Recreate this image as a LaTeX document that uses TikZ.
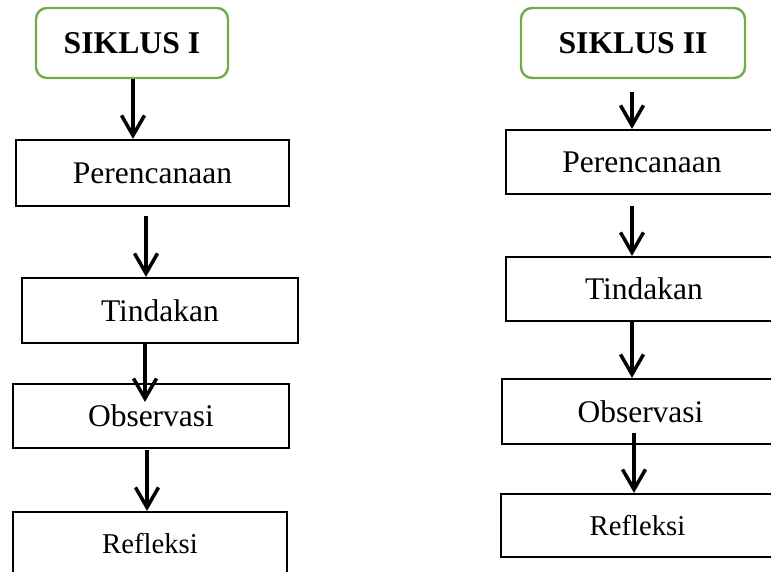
\documentclass[tikz,border=0pt]{standalone}
\usepackage{fontspec}
\setmainfont{Liberation Serif}
\usetikzlibrary{arrows.meta}
\definecolor{sikgreen}{RGB}{112,173,71}
\begin{document}
\begin{tikzpicture}[x=1pt,y=-1pt,
  stepbox/.style={draw=black, line width=2.2pt, rectangle, inner sep=0pt, font=\fontsize{31.5}{36}\selectfont},
  smallbox/.style={stepbox, font=\fontsize{28.7}{34}\selectfont},
  titlebox/.style={draw=sikgreen, line width=2.4pt, rectangle, rounded corners=11pt, inner sep=0pt, font=\fontsize{31.7}{36}\selectfont\bfseries},
  arr/.style={line width=3.5pt, -{Straight Barb[length=20pt,width=23pt]}},
]
\clip (0,0) rectangle (771,572);
% left column
\node[titlebox, minimum width=192pt, minimum height=70pt] (s1) at (132,43) {SIKLUS I};
\node[stepbox, minimum width=273pt, minimum height=66pt] (p1) at (152.5,173) {Perencanaan};
\node[stepbox, minimum width=276pt, minimum height=65pt] (t1) at (160,310.5) {Tindakan};
\node[stepbox, minimum width=276pt, minimum height=64pt] (o1) at (151,416) {Observasi};
\node[smallbox, minimum width=274pt, minimum height=64pt] (r1) at (150,544) {Refleksi};
% right column
\node[titlebox, minimum width=224pt, minimum height=70pt] (s2) at (633,43) {SIKLUS II};
\node[stepbox, minimum width=272pt, minimum height=64pt] (p2) at (642,162) {Perencanaan};
\node[stepbox, minimum width=276pt, minimum height=64pt] (t2) at (644,289) {Tindakan};
\node[stepbox, minimum width=277pt, minimum height=65pt] (o2) at (640.5,411.5) {Observasi};
\node[smallbox, minimum width=273pt, minimum height=63pt] (r2) at (637.5,525.5) {Refleksi};
% left arrows
\coordinate (a1) at (133,0);
\draw[arr] (a1 |- s1.south) -- (a1 |- p1.north);
\coordinate (a2s) at (146,216);
\draw[arr] (a2s) -- (a2s |- t1.north);
\coordinate (a3e) at (145,402);
\draw[arr] (a3e |- t1.south) -- (a3e);
\coordinate (a4s) at (147,450);
\draw[arr] (a4s) -- (a4s |- r1.north);
% right arrows
\coordinate (b1s) at (632,92);
\draw[arr] (b1s) -- (b1s |- p2.north);
\coordinate (b2s) at (632,206);
\draw[arr] (b2s) -- (b2s |- t2.north);
\coordinate (b3) at (632,0);
\draw[arr] (b3 |- t2.south) -- (b3 |- o2.north);
\coordinate (b4s) at (634,433);
\draw[arr] (b4s) -- (b4s |- r2.north);
\end{tikzpicture}
\end{document}
